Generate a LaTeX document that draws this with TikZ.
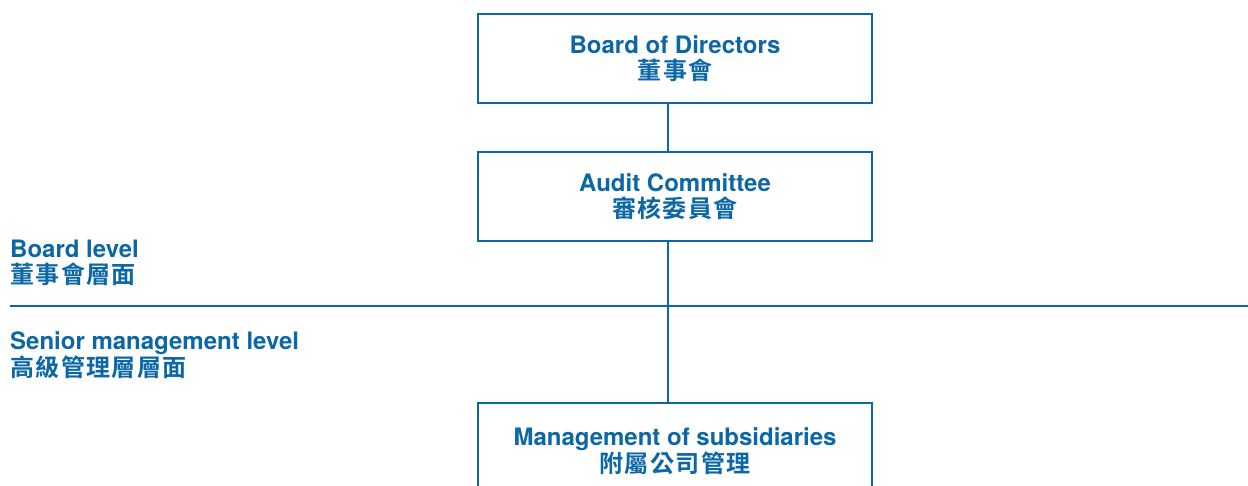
\documentclass[tikz,border=0pt]{standalone}
\usepackage{fontspec}
\setmainfont{TeX Gyre Heros}
\newfontfamily\cjk{Noto Sans CJK TC}[BoldFont={* Bold},LetterSpace=6]
\definecolor{hkblue}{HTML}{0B67A6}
\begin{document}
\begin{tikzpicture}[x=1pt,y=-1pt,
  orgbox/.style={draw=hkblue,line width=1.8pt,minimum width=394pt,minimum height=89pt,
    inner sep=0pt,align=center,text=hkblue,font=\bfseries\fontsize{24}{25.5}\selectfont},
  lvl/.style={anchor=north west,inner sep=0pt,align=left,text=hkblue,font=\bfseries\fontsize{24}{26.5}\selectfont},
  conn/.style={draw=hkblue,line width=1.8pt}]
\clip (0,0) rectangle (1248,486);
\fill[white] (0,0) rectangle (1248,486);
\node[orgbox] (bod) at (675,58.5) {Board of Directors\\{\cjk\bfseries 董事會}};
\node[orgbox] (ac) at (675,196.5) {Audit Committee\\{\cjk\bfseries 審核委員會}};
\node[orgbox,minimum height=97pt] (ms) at (675,451.5) {Management of subsidiaries\\{\cjk\bfseries 附屬公司管理}};
\draw[conn] (bod.south -| 668,0) -- (ac.north -| 668,0);
\draw[conn] (ac.south -| 668,0) -- (ms.north -| 668,0);
\coordinate (hl) at (10,306);
\coordinate (hr) at (1250,306);
\draw[conn] (hl) -- (hr);
\node[lvl] (bl) at (10,239.5) {Board level\\{\cjk\bfseries 董事會層面}};
\node[lvl] (sml) at (10,331.5) {Senior management level\\{\cjk\bfseries 高級管理層層面}};
\end{tikzpicture}
\end{document}
